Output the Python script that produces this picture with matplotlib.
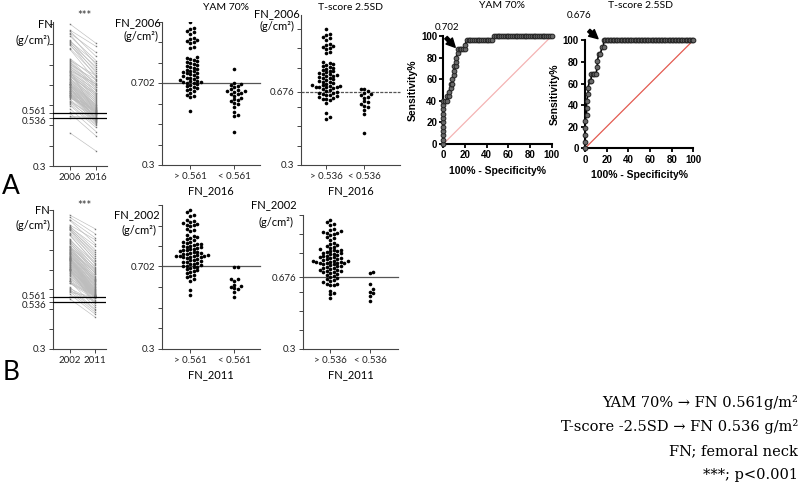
import matplotlib
matplotlib.use("Agg")
import matplotlib.pyplot as plt
from matplotlib.transforms import ScaledTranslation
import numpy as np

# ---------------- data ----------------
yam_cut = 0.561
t_cut = 0.536
a_yam_opt = 0.702
a_t_opt = 0.676

# Panel A: femoral neck BMD 2006 -> 2016 (paired)
a_fn2006 = [1.000, 0.970, 0.965, 0.955, 0.950, 0.940, 0.920, 0.915, 0.910, 0.905, 0.900, 0.895, 0.880, 0.875,
            0.830, 0.825, 0.820, 0.815, 0.810, 0.805, 0.800, 0.795, 0.790, 0.785, 0.780, 0.775, 0.770, 0.765,
            0.762, 0.758, 0.755, 0.750, 0.748, 0.745, 0.740, 0.735, 0.730, 0.727, 0.724, 0.720, 0.716, 0.712,
            0.709, 0.706, 0.704, 0.702, 0.700,
            0.695, 0.690, 0.685, 0.680, 0.676, 0.670, 0.665, 0.660, 0.652, 0.645, 0.640, 0.635, 0.565,
            0.769, 0.702, 0.698, 0.672, 0.660, 0.648, 0.640, 0.618, 0.545, 0.538,
            0.690, 0.688, 0.682, 0.668, 0.662, 0.657, 0.651, 0.646, 0.628, 0.622, 0.612, 0.605, 0.598, 0.582,
            0.560, 0.463]
a_fn2016 = [0.905, 0.890, 0.840, 0.860, 0.800, 0.820, 0.780, 0.810, 0.760, 0.790, 0.740, 0.770, 0.750, 0.720,
            0.730, 0.700, 0.745, 0.690, 0.710, 0.680, 0.725, 0.670, 0.700, 0.660, 0.690, 0.650, 0.705, 0.640,
            0.675, 0.630, 0.660, 0.620, 0.645, 0.610, 0.655, 0.600, 0.635, 0.595, 0.625, 0.590, 0.615, 0.585,
            0.605, 0.580, 0.600, 0.575, 0.592,
            0.570, 0.588, 0.565, 0.582, 0.568, 0.578, 0.563, 0.572, 0.566, 0.574, 0.562, 0.569, 0.563,
            0.558, 0.552, 0.545, 0.556, 0.540, 0.549, 0.554, 0.543, 0.538, 0.537,
            0.530, 0.525, 0.533, 0.520, 0.528, 0.515, 0.531, 0.510, 0.522, 0.505, 0.518, 0.500, 0.490, 0.470,
            0.448, 0.374]

# Panel B: femoral neck BMD 2002 -> 2011 (paired)
b_fn2002 = [0.975, 0.964, 0.952, 0.948, 0.925, 0.920, 0.915, 0.912, 0.908, 0.905, 0.902, 0.898, 0.885, 0.878,
            0.872, 0.855, 0.850, 0.845, 0.840, 0.835, 0.830,
            0.820, 0.818, 0.815, 0.812, 0.810, 0.806, 0.803, 0.800, 0.797, 0.794, 0.791, 0.788, 0.785, 0.782,
            0.779, 0.776, 0.773, 0.770, 0.768, 0.765, 0.762, 0.760, 0.758, 0.756, 0.754, 0.752, 0.751, 0.750,
            0.749, 0.748,
            0.745, 0.742, 0.738, 0.735, 0.732, 0.728, 0.725, 0.722, 0.718, 0.715, 0.712, 0.708, 0.705, 0.703,
            0.701,
            0.698, 0.692, 0.688, 0.682, 0.678, 0.672, 0.668, 0.660, 0.655, 0.648, 0.640, 0.632,
            0.585, 0.564,
            0.640, 0.632, 0.605, 0.595,
            0.700, 0.697, 0.642, 0.612, 0.600, 0.590, 0.578, 0.553]
b_fn2011 = [0.905, 0.880, 0.860, 0.830, 0.850, 0.800, 0.820, 0.780, 0.790, 0.760, 0.770, 0.745, 0.750, 0.725,
            0.735, 0.710, 0.730, 0.695, 0.715, 0.680, 0.700,
            0.690, 0.665, 0.705, 0.655, 0.680, 0.645, 0.670, 0.640, 0.685, 0.630, 0.660, 0.625, 0.650, 0.615,
            0.640, 0.610, 0.635, 0.600, 0.655, 0.595, 0.625, 0.590, 0.620, 0.585, 0.612, 0.580, 0.605, 0.575,
            0.600, 0.572,
            0.595, 0.570, 0.590, 0.568, 0.585, 0.566, 0.580, 0.564, 0.578, 0.575, 0.563, 0.572, 0.570, 0.565,
            0.568,
            0.566, 0.563, 0.567, 0.564, 0.565, 0.562, 0.564, 0.563, 0.566, 0.562, 0.565, 0.563,
            0.563, 0.562,
            0.555, 0.548, 0.542, 0.538,
            0.530, 0.520, 0.510, 0.500, 0.495, 0.485, 0.475, 0.460]

# ROC curves (panel A): false-positive / true-positive counts at each cut-off
roc_yam_nneg, roc_yam_npos = 60, 25
roc_yam_fp = [0, 0, 0, 0, 0, 0, 0, 0, 0, 0, 0, 1, 2, 2, 3, 3, 4, 4, 5, 5, 6, 6, 6, 7, 7, 7, 8, 8, 9, 10, 11,
              12, 12, 13, 14, 15, 16, 17, 18, 19, 20, 21, 22, 23, 24, 25, 26, 27, 28, 29, 30, 31, 32, 33, 34,
              35, 36, 37, 38, 39, 40, 41, 42, 43, 44, 45, 46, 47, 48, 49, 50, 51, 52, 53, 54, 55, 56, 57, 58,
              59, 60]
roc_yam_tp = [0, 1, 2, 3, 4, 5, 6, 7, 8, 9, 10, 10, 10, 11, 11, 12, 13, 14, 14, 15, 16, 17, 18, 18, 19, 20,
              21, 22, 22, 22, 22, 22, 23, 24, 24, 24, 24, 24, 24, 24, 24, 24, 24, 24, 24, 24, 24, 24, 25, 25,
              25, 25, 25, 25, 25, 25, 25, 25, 25, 25, 25, 25, 25, 25, 25, 25, 25, 25, 25, 25, 25, 25, 25, 25,
              25, 25, 25, 25, 25, 25, 25]

roc_t_nneg, roc_t_npos = 70, 16
roc_t_fp = [0, 0, 0, 0, 0, 1, 1, 1, 2, 2, 3, 4, 4, 5, 6, 7, 8, 8, 9, 10, 11, 12, 12, 13, 14, 15, 16, 17, 18,
            19, 20, 21, 22, 23, 24, 25, 26, 27, 28, 29, 30, 31, 32, 33, 34, 35, 36, 37, 38, 39, 40, 41, 42,
            43, 44, 45, 46, 47, 48, 49, 50, 51, 52, 53, 54, 55, 56, 57, 58, 59, 60, 61, 62, 63, 64, 65, 66,
            67, 68, 69, 70]
roc_t_tp = [0, 1, 2, 3, 4, 5, 6, 7, 8, 9, 10, 10, 11, 11, 11, 11, 12, 13, 14, 14, 15, 15, 16, 16, 16, 16,
            16, 16, 16, 16, 16, 16, 16, 16, 16, 16, 16, 16, 16, 16, 16, 16, 16, 16, 16, 16, 16, 16, 16, 16,
            16, 16, 16, 16, 16, 16, 16, 16, 16, 16, 16, 16, 16, 16, 16, 16, 16, 16, 16, 16, 16, 16, 16, 16,
            16, 16, 16, 16, 16, 16, 16]

notes = ["YAM 70% \u2192 FN 0.561g/m\u00b2",
         "T-score -2.5SD \u2192 FN 0.536 g/m\u00b2",
         "FN; femoral neck",
         "***; p<0.001"]

# ---------------- figure ----------------
plt.rcParams['font.family'] = ['Lato', 'DejaVu Sans']
W, H = 800, 484
fig = plt.figure(figsize=(8, 4.84), dpi=100)

BOLD = ['Liberation Sans', 'DejaVu Sans']


def add_ax(l, t, r, b):
    return fig.add_axes([l / W, 1 - b / H, (r - l) / W, (b - t) / H])


def ftext(x, y, s, **kw):
    kw.setdefault('va', 'center')
    return fig.text(x / W, 1 - y / H, s, **kw)


def style_simple(ax):
    for s in ['top', 'right']:
        ax.spines[s].set_visible(False)
    for s in ['left', 'bottom']:
        ax.spines[s].set_linewidth(0.8)
        ax.spines[s].set_color('#444')
    ax.tick_params(length=3, width=0.7, colors='#444', labelcolor='#222', labelsize=7, pad=2)
    ax.tick_params(which='minor', length=3, width=0.7, colors='#444')


def paired(ax, v0, v1, labels, ylim):
    for a, b in zip(v0, v1):
        ax.plot([0, 1], [a, b], color='#bdbdbd', lw=0.45, zorder=1)
    ax.plot(np.zeros(len(v0)), v0, 's', ms=1.0, color='#777', mew=0, zorder=2)
    ax.plot(np.ones(len(v1)), v1, 's', ms=1.0, color='#777', mew=0, zorder=2)
    for c in (yam_cut, t_cut):
        ax.axhline(c, color='black', lw=0.9, zorder=3)
    ax.set_xlim(-0.65, 1.42)
    ax.set_ylim(*ylim)
    ax.set_xticks([0, 1])
    ax.set_xticklabels(labels)
    ax.set_yticks([0.3, t_cut, yam_cut])
    ax.set_yticklabels(['0.3', '0.536', '0.561'])
    ax.set_yticks([0.4, 0.5, 0.6, 0.7, 0.8, 0.9, 1.0], minor=True)
    style_simple(ax)
    labs = ax.get_yticklabels()
    labs[1].set_transform(labs[1].get_transform() + ScaledTranslation(0, -1.5 / 72, fig.dpi_scale_trans))
    labs[2].set_transform(labs[2].get_transform() + ScaledTranslation(0, 1.5 / 72, fig.dpi_scale_trans))


def swarm_offsets(vals, ppu_x, ppu_y, d=3.5):
    vals = np.asarray(vals)
    placed = []
    offs = np.zeros(len(vals))
    cands = [0.0]
    for j in range(1, 40):
        cands += [j * d, -j * d]
    for i in np.argsort(vals):
        y = vals[i] * ppu_y
        for c in cands:
            if all((c - px) ** 2 + (y - py) ** 2 >= (0.97 * d) ** 2 for px, py in placed):
                placed.append((c, y))
                offs[i] = c / ppu_x
                break
    return offs


def scatter_panel(ax, box, groups, labels, cut, ylim, xlim, dashed=False):
    l, t, r, b = box
    ppu_x = (r - l) / (xlim[1] - xlim[0])
    ppu_y = (b - t) / (ylim[1] - ylim[0])
    for k, g in enumerate(groups):
        offs = swarm_offsets(g, ppu_x, ppu_y)
        ax.plot(k + offs, g, 'o', ms=2.6, color='black', mew=0, zorder=3)
    ls = (0, (2.5, 1)) if dashed else '-'
    ax.axhline(cut, color='#555', lw=0.9, ls=ls, zorder=2, clip_on=False)
    ax.set_xlim(*xlim)
    ax.set_ylim(*ylim)
    ax.set_xticks([0, 1])
    ax.set_xticklabels(labels)
    ax.set_yticks([0.3, cut])
    ax.set_yticklabels(['0.3', f'{cut:.3f}'])
    ax.set_yticks([t_ for t_ in [0.4, 0.5, 0.6, 0.7, 0.8, 0.9, 1.0] if t_ <= ylim[1] and abs(t_ - cut) > 0.03],
                  minor=True)
    style_simple(ax)


def roc_panel(ax, fp, tp, nneg, npos, diag_color):
    x = np.array(fp) / nneg * 100
    y = np.array(tp) / npos * 100
    ax.plot([0, 100], [0, 100], color=diag_color, lw=0.9, zorder=1)
    ax.plot(x, y, color='black', lw=1.2, marker='o', ms=3.4, mfc='#6a6a6a', mec='#222', mew=0.7,
            clip_on=False, zorder=3)
    ax.set_xlim(0, 100)
    ax.set_ylim(0, 100)
    for s in ['top', 'right']:
        ax.spines[s].set_visible(False)
    for s in ['left', 'bottom']:
        ax.spines[s].set_linewidth(1.5)
    ax.set_xticks([0, 20, 40, 60, 80, 100])
    ax.set_yticks([0, 20, 40, 60, 80, 100])
    ax.tick_params(length=3, width=1.3, labelsize=7, pad=1.5)
    for lab in ax.get_xticklabels() + ax.get_yticklabels():
        lab.set_fontweight('bold')
        lab.set_family(BOLD)
    ax.set_xlabel('100% - Specificity%', fontweight='bold', fontsize=7.5, family=BOLD, labelpad=4)
    ax.set_ylabel('Sensitivity%', fontweight='bold', fontsize=7.5, family=BOLD, labelpad=2)


def arrow(ax, head, tail):
    ax.annotate('', xy=head, xytext=tail,
                arrowprops=dict(arrowstyle='simple,head_length=0.9,head_width=0.9,tail_width=0.35',
                                color='black', mutation_scale=7, shrinkA=0, shrinkB=0),
                annotation_clip=False)


def split(v_before, v_after, cut):
    hi = [a for a, b in zip(v_before, v_after) if b > cut]
    lo = [a for a, b in zip(v_before, v_after) if b < cut]
    return hi, lo


# ---- Row A ----
axA1 = add_ax(53, 22, 107, 166)
paired(axA1, a_fn2006, a_fn2016, ['2006', '2016'], (0.3, 1.01))
ftext(53, 25, 'FN', ha='right', fontsize=8)
ftext(33, 40, '(g/cm\u00b2)', ha='center', fontsize=8)
ftext(84, 16, '***', ha='center', fontsize=8, color='#333')
ftext(11, 187, 'A', ha='center', fontsize=19)

boxA2 = (162, 22, 260, 165)
axA2 = add_ax(*boxA2)
scatter_panel(axA2, boxA2, split(a_fn2006, a_fn2016, yam_cut), ['> 0.561', '< 0.561'], a_yam_opt,
              (0.3, 1.0), (-0.636, 1.59))
axA2.set_xlabel('FN_2016', fontsize=8, labelpad=3)
ftext(161, 23, 'FN_2006', ha='right', fontsize=8)
ftext(141, 36, '(g/cm\u00b2)', ha='center', fontsize=8)
ftext(226, 8, 'YAM 70%', ha='center', fontsize=7.5)

boxA3 = (301, 15, 400, 165)
axA3 = add_ax(*boxA3)
scatter_panel(axA3, boxA3, split(a_fn2006, a_fn2016, t_cut), ['> 0.536', '< 0.536'], a_t_opt,
              (0.3, 1.07), (-0.658, 1.947), dashed=True)
axA3.set_xlabel('FN_2016', fontsize=8, labelpad=3)
ftext(300, 14, 'FN_2006', ha='right', fontsize=8)
ftext(277, 26, '(g/cm\u00b2)', ha='center', fontsize=8)
ftext(350, 7, 'T-score 2.5SD', ha='center', fontsize=7.5)

axR1 = add_ax(443.3, 36, 551.7, 144)
roc_panel(axR1, roc_yam_fp, roc_yam_tp, roc_yam_nneg, roc_yam_npos, '#f4b3b3')
arrow(axR1, (11.0, 89.5), (2.5, 98.5))
ftext(447, 28, '0.702', ha='center', fontsize=7)
ftext(502, 6, 'YAM 70%', ha='center', fontsize=7.5)

axR2 = add_ax(585, 40.3, 693.3, 148.3)
roc_panel(axR2, roc_t_fp, roc_t_tp, roc_t_nneg, roc_t_npos, '#e35a50')
arrow(axR2, (12.0, 101.5), (3.5, 109.0))
ftext(579, 16, '0.676', ha='center', fontsize=7)
ftext(640, 5, 'T-score 2.5SD', ha='center', fontsize=7.5)

# ---- Row B ----
axB1 = add_ax(53, 210, 106, 349)
paired(axB1, b_fn2002, b_fn2011, ['2002', '2011'], (0.3, 1.0))
ftext(50, 210, 'FN', ha='right', fontsize=8)
ftext(33, 225, '(g/cm\u00b2)', ha='center', fontsize=8)
ftext(84, 205, '***', ha='center', fontsize=8, color='#333')
ftext(11, 372, 'B', ha='center', fontsize=19)

boxB2 = (162, 205, 260, 349)
axB2 = add_ax(*boxB2)
scatter_panel(axB2, boxB2, split(b_fn2002, b_fn2011, yam_cut), ['> 0.561', '< 0.561'], a_yam_opt,
              (0.3, 1.0), (-0.636, 1.59))
axB2.set_xlabel('FN_2011', fontsize=8, labelpad=3)
ftext(160, 215, 'FN_2002', ha='right', fontsize=8)
ftext(139, 230, '(g/cm\u00b2)', ha='center', fontsize=8)

boxB3 = (303, 215, 398, 349)
axB3 = add_ax(*boxB3)
scatter_panel(axB3, boxB3, split(b_fn2002, b_fn2011, t_cut), ['> 0.536', '< 0.536'], a_t_opt,
              (0.3, 1.0), (-0.675, 1.7))
axB3.set_xlabel('FN_2011', fontsize=8, labelpad=3)
ftext(297, 205, 'FN_2002', ha='right', fontsize=8)
ftext(276, 222, '(g/cm\u00b2)', ha='center', fontsize=8)

# ---- notes ----
for i, s in enumerate(notes):
    ftext(798, 403 + 24 * i, s, ha='right', fontsize=10.5, family=['DejaVu Serif'])

fig.savefig('out.png', dpi=100)
